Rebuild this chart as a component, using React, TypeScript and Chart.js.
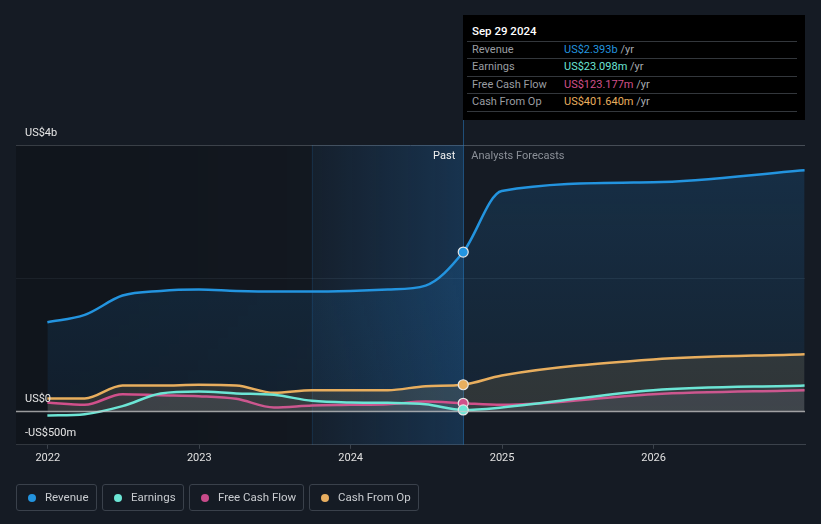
import React, { useEffect, useRef } from "react";
import { Chart, registerables } from "chart.js";

Chart.register(...registerables);

const dates = [
  "2021-12-31", "2022-03-31", "2022-06-30", "2022-09-30", "2022-12-31",
  "2023-03-31", "2023-06-30", "2023-09-30", "2023-12-31", "2024-03-31",
  "2024-06-30", "2024-09-29", "2024-12-31", "2025-12-31", "2026-12-31",
];
// values in US$ billions
const revenue = [1.34, 1.45, 1.74, 1.81, 1.83, 1.81, 1.80, 1.80, 1.81, 1.83, 1.89, 2.393, 3.31, 3.44, 3.62];
const earnings = [-0.06, -0.04, 0.08, 0.27, 0.30, 0.27, 0.25, 0.16, 0.135, 0.13, 0.11, 0.023, 0.06, 0.32, 0.39];
const freeCashFlow = [0.136, 0.10, 0.26, 0.245, 0.23, 0.19, 0.06, 0.09, 0.10, 0.11, 0.15, 0.123, 0.10, 0.26, 0.32];
const cashFromOp = [0.196, 0.196, 0.39, 0.39, 0.40, 0.39, 0.28, 0.32, 0.32, 0.32, 0.38, 0.4016, 0.54, 0.78, 0.86];

const xTickYears = [2022, 2023, 2024, 2025, 2026];
const yTickValues = [-0.5, 0, 2, 4];
const yTickLabels = ["-US$500m", "US$0", "", "US$4b"];

const pastDate = "2024-09-29";
const highlightStart = "2023-09-29";
const xMin = 2021.79;
const xMax = 2027.0;

const tooltipTitle = "Sep 29 2024";
const tooltipRows = [
  { label: "Revenue", value: "US$2.393b", color: "#2394df" },
  { label: "Earnings", value: "US$23.098m", color: "#6ce5d5" },
  { label: "Free Cash Flow", value: "US$123.177m", color: "#d0508b" },
  { label: "Cash From Op", value: "US$401.640m", color: "#e8ae5e" },
];

const legendItems = [
  { label: "Revenue", color: "#2394df", left: 16, width: 81 },
  { label: "Earnings", color: "#6ce5d5", left: 102, width: 82 },
  { label: "Free Cash Flow", color: "#c84b8a", left: 189, width: 115 },
  { label: "Cash From Op", color: "#e8ae60", left: 309, width: 110 },
];

function toYear(d: string): number {
  const [y, m, dd] = d.split("-").map(Number);
  const start = Date.UTC(y, 0, 1);
  const end = Date.UTC(y + 1, 0, 1);
  return y + (Date.UTC(y, m - 1, dd) - start) / (end - start);
}

const FONT = "Roboto, 'Noto Sans', sans-serif";

export default function App() {
  const ref = useRef<HTMLCanvasElement | null>(null);

  useEffect(() => {
    document.body.style.margin = "0";
    const canvas = ref.current!;
    const xs = dates.map(toYear);
    const pastIdx = dates.indexOf(pastDate);
    const mk = (vals: number[]) => vals.map((v, i) => ({ x: xs[i], y: v }));
    const radii = dates.map((_, i) => (i === pastIdx ? 5 : 0));

    const bgPlugin = {
      id: "bgPlugin",
      beforeDatasetsDraw(chart: any) {
        const { ctx, chartArea, scales } = chart;
        const x = scales.x;
        const xh = x.getPixelForValue(toYear(highlightStart));
        const xp = x.getPixelForValue(toYear(pastDate));
        ctx.save();
        let g = ctx.createLinearGradient(chartArea.left, 0, xh, 0);
        g.addColorStop(0, "rgba(0,0,0,0.22)");
        g.addColorStop(1, "rgba(0,0,0,0.1)");
        ctx.fillStyle = g;
        ctx.fillRect(chartArea.left, chartArea.top, xh - chartArea.left, chartArea.bottom - chartArea.top);
        g = ctx.createLinearGradient(xh, 0, xp, 0);
        g.addColorStop(0, "rgba(33,120,200,0.06)");
        g.addColorStop(1, "rgba(33,120,200,0.26)");
        ctx.fillStyle = g;
        ctx.fillRect(xh, chartArea.top, xp - xh, chartArea.bottom - chartArea.top);
        ctx.strokeStyle = "rgba(33,150,243,0.12)";
        ctx.lineWidth = 1;
        ctx.beginPath();
        ctx.moveTo(Math.round(xh) + 0.5, chartArea.top);
        ctx.lineTo(Math.round(xh) + 0.5, chartArea.bottom);
        ctx.stroke();
        ctx.strokeStyle = "rgba(40,120,190,0.55)";
        ctx.beginPath();
        ctx.moveTo(Math.round(xp) + 0.5, 120);
        ctx.lineTo(Math.round(xp) + 0.5, chartArea.bottom);
        ctx.stroke();
        ctx.restore();
      },
      afterDatasetsDraw(chart: any) {
        const { ctx, chartArea, scales } = chart;
        const y = scales.y;
        const x = scales.x;
        const xp = x.getPixelForValue(toYear(pastDate));
        ctx.save();
        const y0 = y.getPixelForValue(0);
        ctx.strokeStyle = "rgba(200,200,200,0.75)";
        ctx.lineWidth = 1.5;
        ctx.beginPath();
        ctx.moveTo(chartArea.left, y0);
        ctx.lineTo(chartArea.right, y0);
        ctx.stroke();
        ctx.restore();
        ctx.save();
        ctx.font = "11px " + FONT;
        ctx.textBaseline = "middle";
        ctx.fillStyle = "#e6e6e6";
        ctx.textAlign = "left";
        yTickValues.forEach((v, i) => {
          const lbl = yTickLabels[i];
          if (!lbl) return;
          const py = y.getPixelForValue(v);
          ctx.fillText(lbl, 25, py - 12);
        });
        ctx.textAlign = "right";
        ctx.fillStyle = "#f0f0f0";
        ctx.fillText("Past", xp - 8, 156);
        ctx.textAlign = "left";
        ctx.fillStyle = "#8b9098";
        ctx.fillText("Analysts Forecasts", xp + 8, 156);
        ctx.restore();
      },
    };

    const revFill = (c: any) => {
      const { chart } = c;
      const area = chart.chartArea;
      if (!area) return "rgba(33,150,243,0.12)";
      const g = chart.ctx.createLinearGradient(0, area.top, 0, chart.scales.y.getPixelForValue(0));
      g.addColorStop(0, "rgba(33,150,243,0.17)");
      g.addColorStop(1, "rgba(33,150,243,0.07)");
      return g;
    };

    const ds = (label: string, vals: number[], color: string, fill: any, order: number) => ({
      label,
      data: mk(vals),
      borderColor: color,
      backgroundColor: fill,
      fill: "origin",
      borderWidth: 2.5,
      cubicInterpolationMode: "monotone",
      pointRadius: radii,
      pointHoverRadius: radii,
      pointBackgroundColor: color,
      pointBorderColor: "#e6e6e6",
      pointBorderWidth: 1.2,
      order,
    });

    const chart = new Chart(canvas, {
      type: "line",
      data: {
        datasets: [
          ds("Revenue", revenue, "#2394df", revFill, 4),
          ds("Cash From Op", cashFromOp, "#e8ae5e", "rgba(232,174,90,0.13)", 3),
          ds("Earnings", earnings, "#6ce5d5", "rgba(150,190,200,0.07)", 1),
          ds("Free Cash Flow", freeCashFlow, "#d0508b", "rgba(170,150,200,0.07)", 2),
        ] as any,
      },
      options: {
        responsive: false,
        animation: false,
        layout: { padding: { left: 16, right: 16, top: 145, bottom: 56 } },
        plugins: { legend: { display: false }, tooltip: { enabled: false } },
        events: [],
        scales: {
          x: {
            type: "linear",
            min: xMin,
            max: xMax,
            afterBuildTicks: (s: any) => {
              s.ticks = xTickYears.map((v) => ({ value: v }));
            },
            ticks: {
              color: "#e0e0e0",
              font: { family: FONT, size: 11 },
              padding: 3,
              maxRotation: 0,
              autoSkip: false,
              callback: (v: any) => String(v),
            },
            grid: { drawOnChartArea: false, drawTicks: true, tickLength: 4, color: "#3b424b" },
            border: { color: "#3b424b", width: 1 },
          },
          y: {
            type: "linear",
            min: -0.5,
            max: 4,
            afterBuildTicks: (s: any) => {
              s.ticks = yTickValues.map((v) => ({ value: v }));
            },
            ticks: { display: false },
            grid: {
              drawTicks: false,
              color: (c: any) => {
                const v = c.tick ? c.tick.value : null;
                if (v === 4) return "#464d56";
                if (v === 2) return "#222a34";
                return "rgba(0,0,0,0)";
              },
            },
            border: { display: false },
          },
        },
      } as any,
      plugins: [bgPlugin],
    });
    return () => chart.destroy();
  }, []);

  return (
    <div
      style={{
        position: "absolute",
        left: 0,
        top: 0,
        width: 821,
        height: 524,
        background: "#151b24",
        fontFamily: FONT,
        overflow: "hidden",
      }}
    >
      <canvas ref={ref} width={821} height={524} style={{ position: "absolute", left: 0, top: 0 }} />
      <div
        style={{
          position: "absolute",
          left: 463,
          top: 15,
          width: 342,
          height: 105,
          background: "#000",
          fontSize: 11,
        }}
      >
        <div style={{ position: "absolute", left: 9, top: 9, color: "#fff", fontWeight: 500, fontSize: 11.5 }}>
          {tooltipTitle}
        </div>
        {[0, 1, 2, 3, 4].map((i) => (
          <div
            key={"l" + i}
            style={{
              position: "absolute",
              left: 4,
              width: 330,
              top: 26 + i * 17.4,
              height: 1,
              background: "#33373c",
            }}
          />
        ))}
        {tooltipRows.map((r, i) => (
          <div
            key={r.label}
            style={{
              position: "absolute",
              left: 9,
              top: 27 + i * 17.4,
              height: 16,
              lineHeight: "16px",
              whiteSpace: "nowrap",
              width: 320,
            }}
          >
            <span style={{ color: "#9a9da2" }}>{r.label}</span>
            <span style={{ position: "absolute", left: 92 }}>
              <span style={{ color: r.color }}>{r.value}</span>
              <span style={{ color: "#a8abb0" }}> /yr</span>
            </span>
          </div>
        ))}
      </div>
      {legendItems.map((it) => (
        <div
          key={it.label}
          style={{
            position: "absolute",
            left: it.left,
            top: 484,
            width: it.width,
            height: 27,
            boxSizing: "border-box",
            border: "1px solid #3a414b",
            borderRadius: 3,
          }}
        >
          <div
            style={{
              position: "absolute",
              left: 11,
              top: 8.5,
              width: 8,
              height: 8,
              borderRadius: 4,
              background: it.color,
            }}
          />
          <div
            style={{
              position: "absolute",
              left: 28,
              top: 0,
              lineHeight: "25px",
              fontSize: 11.5,
              color: "#c9ccd0",
              whiteSpace: "nowrap",
            }}
          >
            {it.label}
          </div>
        </div>
      ))}
    </div>
  );
}
